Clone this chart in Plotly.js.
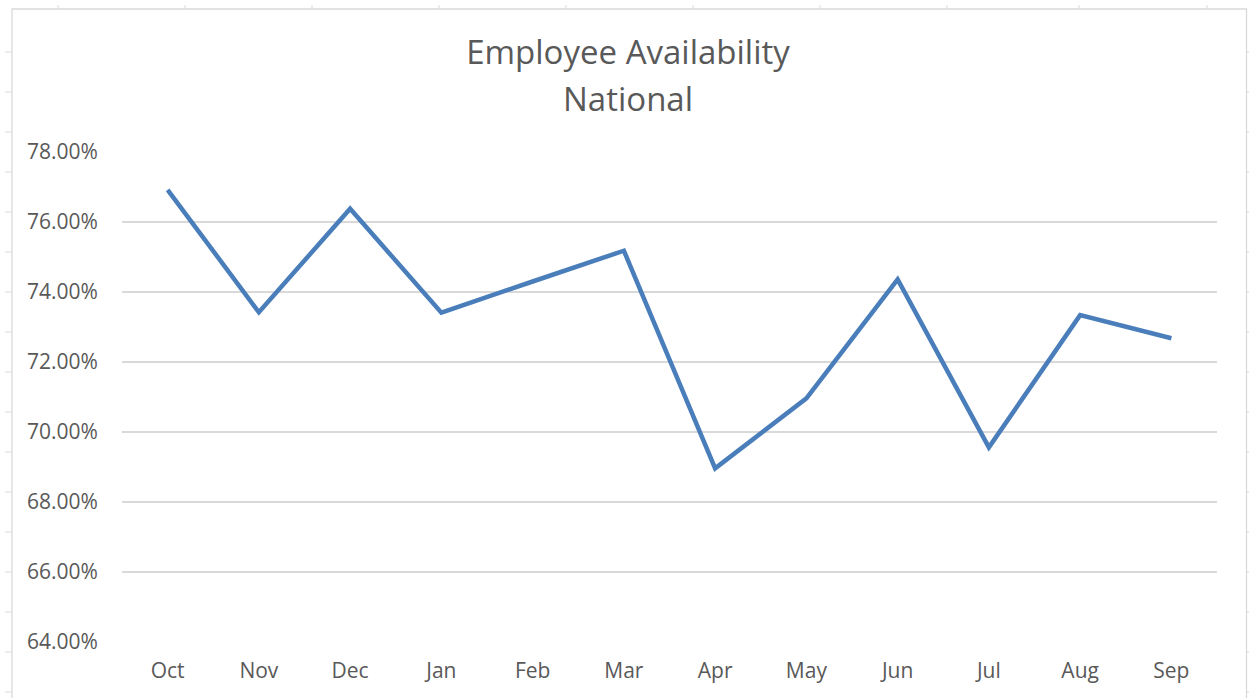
<!DOCTYPE html>
<html>
<head>
<meta charset="utf-8">
<script src="https://cdn.plot.ly/plotly-3.0.1.min.js"></script>
<style>html,body{margin:0;padding:0;background:#fff;}#chart{width:1249px;height:698px;}</style>
</head>
<body>
<div id="chart"></div>
<script>
var months = ["Oct","Nov","Dec","Jan","Feb","Mar","Apr","May","Jun","Jul","Aug","Sep"];
var availability = [76.92, 73.42, 76.38, 73.41, 74.30, 75.18, 68.96, 70.96, 74.36, 69.56, 73.34, 72.68];
var yTicks = [64, 66, 68, 70, 72, 74, 76, 78];
var yTickText = yTicks.map(function(v){ return v.toFixed(2) + "%"; });
var titleLine1 = "Employee Availability";
var titleLine2 = "National";

var W = 1249, H = 698, L = 122, R = 32, T = 152, B = 56;
var pw = W - L - R, ph = H - T - B;
function px(x){ return (x - L) / pw; }
function py(y){ return (H - B - y) / ph; }

var FONT = "'Open Sans', Lato, sans-serif";
var shapes = [];
var frame = {color:"#d9d9d9", width:1.3};
shapes.push({type:"rect", xref:"paper", yref:"paper", x0:px(12), x1:px(1246.5), y0:py(9), y1:py(705), line:frame, fillcolor:"rgba(0,0,0,0)", layer:"below"});
var rowYs = [52,92,132,172,212,252,292,332,372,412,452,492,532,572,612,652,692];
rowYs.forEach(function(y){
  shapes.push({type:"line", xref:"paper", yref:"paper", x0:px(5), x1:px(12), y0:py(y), y1:py(y), line:{color:"#d9d9d9", width:1}});
  shapes.push({type:"line", xref:"paper", yref:"paper", x0:px(1246.5), x1:px(1249), y0:py(y), y1:py(y), line:{color:"#d9d9d9", width:1}});
});
[58,185,312,439,566,693,820,947,1079,1207].forEach(function(x){
  shapes.push({type:"line", xref:"paper", yref:"paper", x0:px(x), x1:px(x), y0:py(5), y1:py(9), line:{color:"#d9d9d9", width:1}});
});

var trace = {
  x: months,
  y: availability,
  type: "scatter",
  mode: "lines",
  line: {color:"#4A7EBB", width:4.5},
  hoverinfo: "skip"
};

var layout = {
  width: W, height: H,
  margin: {l:L, r:R, t:T, b:B, pad:0},
  paper_bgcolor: "#ffffff",
  plot_bgcolor: "#ffffff",
  showlegend: false,
  font: {family:FONT, color:"#595959", size:21},
  title: {
    text: titleLine1,
    font: {family:FONT, size:33, color:"#595959"},
    x: 628/W, xanchor:"center", xref:"container",
    y: 1 - 52/H, yanchor:"middle", yref:"container"
  },
  annotations: [{
    text: titleLine2, showarrow:false,
    xref:"paper", yref:"paper",
    x: px(628), y: py(98), xanchor:"center", yanchor:"middle",
    font: {family:FONT, size:33, color:"#595959"}
  }],
  xaxis: {
    type:"category",
    range:[-0.5, 11.5],
    showgrid:false, zeroline:false, showline:false,
    ticks:"outside", ticklen:10, tickcolor:"rgba(0,0,0,0)",
    tickfont:{family:FONT, size:21, color:"#595959"},
    fixedrange:true
  },
  yaxis: {
    range:[64, 78],
    tickvals: yTicks,
    ticktext: yTickText,
    showgrid:true, gridcolor:"#d9d9d9", gridwidth:1.3,
    zeroline:false, showline:false,
    ticks:"outside", ticklen:19, tickcolor:"rgba(0,0,0,0)",
    tickfont:{family:FONT, size:21, color:"#595959"},
    fixedrange:true
  },
  shapes: shapes
};

Plotly.newPlot("chart", [trace], layout, {displayModeBar:false, staticPlot:true});
</script>
</body>
</html>
